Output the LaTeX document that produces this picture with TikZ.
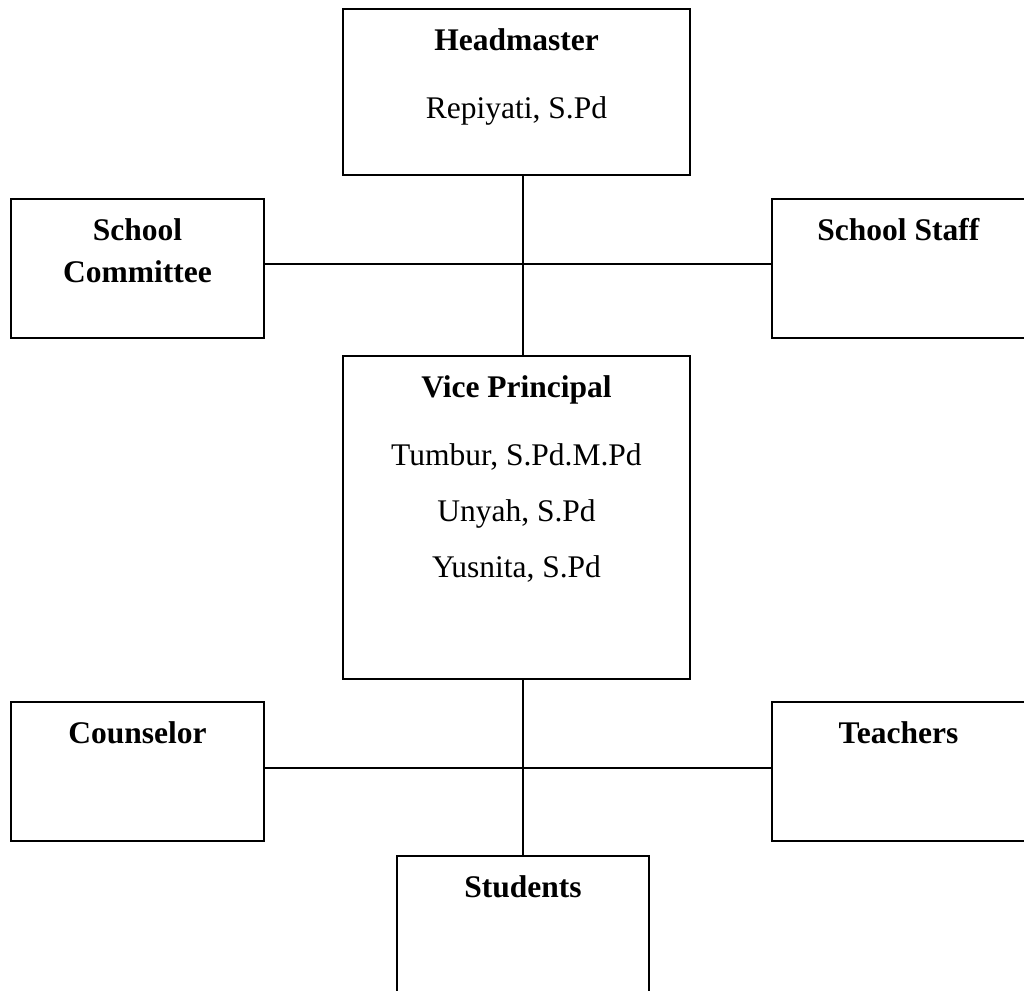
\documentclass[tikz,border=0pt]{standalone}
\usepackage{fontspec}
\setmainfont{Liberation Serif}
\usepackage{tikz}
\usetikzlibrary{positioning,calc}
\tikzstyle{box} = [rectangle, draw=black, line width=1.6pt, inner sep=0pt]
\tikzstyle{wide} = [box, minimum width=347pt]
\tikzstyle{side} = [box, minimum width=253pt, minimum height=139pt]
\tikzstyle{title} = [inner sep=0pt, align=center, font=\fontsize{31.5}{56}\selectfont]
\tikzstyle{line} = [line width=1.6pt]

\begin{document}
\begin{tikzpicture}[x=1pt,y=-1pt]
	\useasboundingbox (0,0) rectangle (1024,990);
	% junction points
	\coordinate (upper) at (523,264);
	\coordinate (lower) at (523,768);

	\node (Head) [wide, minimum height=166pt] at (516.5,92) {};
	\node (Committee) [side] at (137.5,268.5) {};
	\node (Staff) [side] at (898.5,268.5) {};
	\node (Vice) [wide, minimum height=323pt] at (516.5,517.5) {};
	\node (Counselor) [side] at (137.5,771.5) {};
	\node (Teachers) [side] at (898.5,771.5) {};
	\node (Students) [box, minimum width=252pt, minimum height=150pt] at (523,931) {};

	\node (HeadT) [title, below = 20pt of Head.north] {\textbf{Headmaster}\\[12pt]Repiyati, S.Pd};
	\node (CommitteeT) [title, below = 20pt of Committee.north] {\textbf{School}\\[-14pt]\textbf{Committee}};
	\node (StaffT) [title, below = 20pt of Staff.north] {\textbf{School Staff}};
	\node (ViceT) [title, below = 20pt of Vice.north] {\textbf{Vice Principal}\\[12pt]Tumbur, S.Pd.M.Pd\\Unyah, S.Pd\\Yusnita, S.Pd};
	\node (CounselorT) [title, below = 20pt of Counselor.north] {\textbf{Counselor}};
	\node (TeachersT) [title, below = 20pt of Teachers.north] {\textbf{Teachers}};
	\node (StudentsT) [title, below = 20pt of Students.north] {\textbf{Students}};

	\draw[line] (Head.south -| upper) -- (Vice.north -| upper);
	\draw[line] (Committee.east |- upper) -- (Staff.west |- upper);
	\draw[line] (Vice.south -| lower) -- (Students.north -| lower);
	\draw[line] (Counselor.east |- lower) -- (Teachers.west |- lower);
\end{tikzpicture}
\end{document}
